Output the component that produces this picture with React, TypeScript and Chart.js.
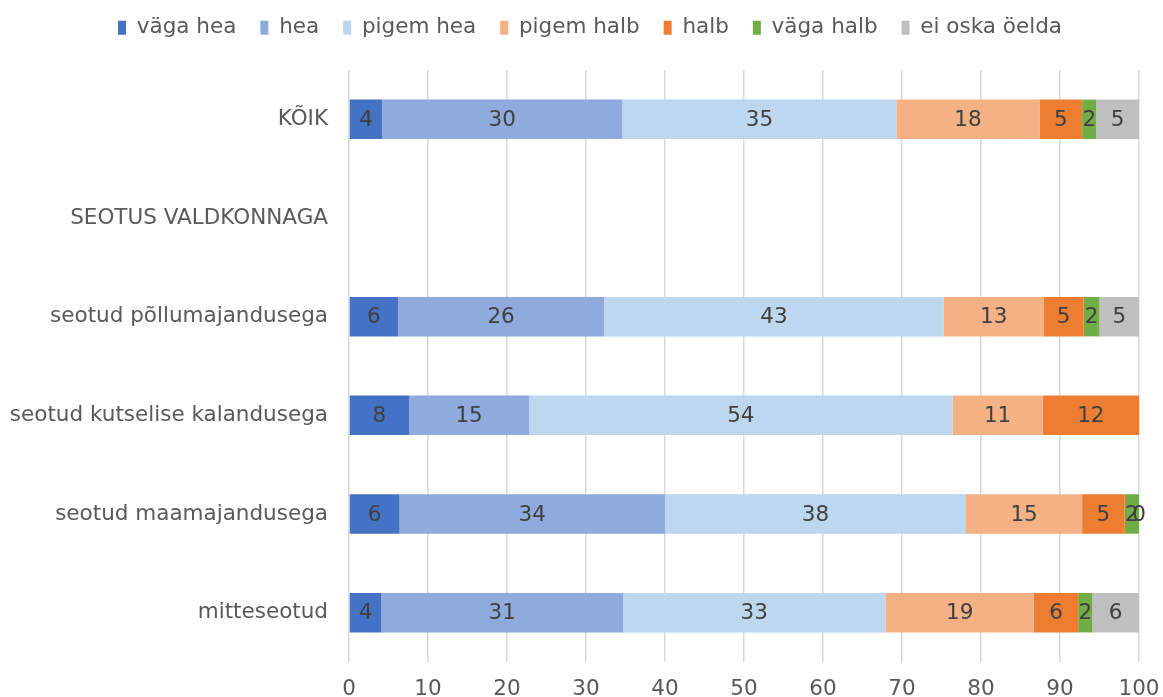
import React, { useEffect, useRef } from "react";
import { Chart, registerables } from "chart.js";

Chart.register(...registerables);

const categories = [
  "KÕIK",
  "SEOTUS VALDKONNAGA",
  "seotud põllumajandusega",
  "seotud kutselise kalandusega",
  "seotud maamajandusega",
  "mitteseotud",
];

const seriesNames = ["väga hea", "hea", "pigem hea", "pigem halb", "halb", "väga halb", "ei oska öelda"];
const seriesColors = ["#4472C4", "#8FAADC", "#BDD7EE", "#F4B183", "#ED7D31", "#70AD47", "#BFBFBF"];

const vagaHea = [4.2, null, 6.2, 7.6, 6.4, 4.1];
const hea = [30.4, null, 26.1, 15.2, 33.6, 30.6];
const pigemHea = [34.7, null, 43.0, 53.6, 38.1, 33.2];
const pigemHalb = [18.1, null, 12.6, 11.4, 14.7, 18.8];
const halb = [5.4, null, 5.1, 12.2, 5.4, 5.6];
const vagaHalb = [1.8, null, 2.0, null, 1.8, 1.8];
const eiOska = [5.4, null, 5.0, null, 0, 5.9];

const seriesValues = [vagaHea, hea, pigemHea, pigemHalb, halb, vagaHalb, eiOska];

const xTicks = [0, 10, 20, 30, 40, 50, 60, 70, 80, 90, 100];

const FONT = '"DejaVu Sans"';
const FS = 21.5;

const dataLabelPlugin = {
  id: "dataLabels",
  afterDatasetsDraw(chart: any) {
    const ctx = chart.ctx;
    ctx.save();
    ctx.font = `${FS}px ${FONT}`;
    ctx.fillStyle = "#404040";
    ctx.textAlign = "center";
    ctx.textBaseline = "middle";
    chart.data.datasets.forEach((ds: any, di: number) => {
      const meta = chart.getDatasetMeta(di);
      meta.data.forEach((el: any, i: number) => {
        const v = ds.data[i];
        if (v === null || v === undefined) return;
        const p = el.getProps(["x", "y", "base"], true);
        const cx = (p.x + p.base) / 2;
        ctx.fillText(String(Math.round(v)), cx, p.y + 1);
      });
    });
    ctx.restore();
  },
};

const legendFixPlugin = {
  id: "legendFix",
  afterInit(chart: any) {
    const lg = chart.legend;
    if (lg && !lg.__patched) {
      const origFit = lg.fit.bind(lg);
      lg.fit = function () {
        origFit();
        this.height = 77;
      };
      const origDraw = lg.draw.bind(lg);
      lg.draw = function () {
        const ctx = chart.ctx;
        ctx.save();
        ctx.translate(20.5, 0);
        origDraw();
        ctx.restore();
      };
      lg.__patched = true;
    }
  },
};

export default function App() {
  const ref = useRef<HTMLCanvasElement>(null);
  useEffect(() => {
    if (!ref.current) return;
    const chart = new Chart(ref.current, {
      type: "bar",
      data: {
        labels: categories,
        datasets: seriesNames.map((name, i) => ({
          label: name,
          data: seriesValues[i] as any,
          backgroundColor: seriesColors[i],
          borderWidth: 0,
          barPercentage: 0.4,
          categoryPercentage: 1,
        })),
      },
      options: {
        indexAxis: "y",
        responsive: false,
        animation: false,
        devicePixelRatio: 1,
        layout: { padding: { top: -7, right: 24, bottom: 0, left: 0 } },
        plugins: {
          legend: {
            position: "top",
            labels: {
              font: { family: FONT, size: FS },
              color: "#595959",
              boxWidth: 8,
              boxHeight: 14,
              padding: 24,
            },
          },
          tooltip: { enabled: false },
        },
        scales: {
          x: {
            stacked: true,
            min: 0,
            max: 100,
            afterBuildTicks(scale: any) {
              scale.ticks = xTicks.map((v) => ({ value: v }));
            },
            afterFit(scale: any) {
              scale.height = 35;
              scale.paddingLeft = 0;
              scale.paddingRight = 0;
            },
            grid: { color: "#D9D9D9", lineWidth: 1.5, drawTicks: false },
            border: { display: false },
            ticks: {
              font: { family: FONT, size: FS },
              color: "#595959",
              padding: 15,
              maxRotation: 0,
              autoSkip: false,
            },
          },
          y: {
            stacked: true,
            afterFit(scale: any) {
              scale.width = 349;
              scale.paddingTop = 0;
              scale.paddingBottom = 0;
            },
            grid: { display: false, drawTicks: false },
            border: { display: false },
            ticks: {
              font: { family: FONT, size: FS },
              color: "#595959",
              padding: 21,
            },
          },
        },
      },
      plugins: [dataLabelPlugin, legendFixPlugin],
    });
    return () => chart.destroy();
  }, []);
  return (
    <div style={{ position: "absolute", left: 0, top: 0, width: 1163, height: 697, background: "#fff" }}>
      <canvas ref={ref} width={1163} height={697} style={{ display: "block" }} />
    </div>
  );
}
